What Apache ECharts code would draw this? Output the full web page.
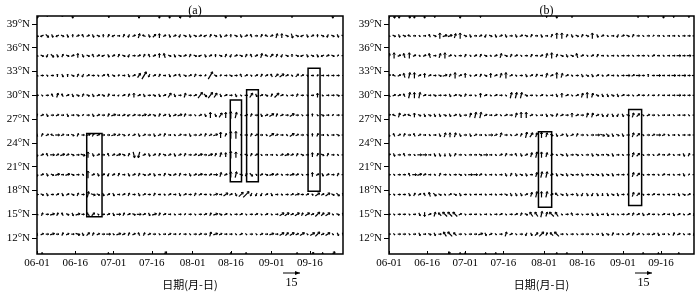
<!DOCTYPE html>
<html><head><meta charset="utf-8">
<script src="https://cdn.jsdelivr.net/npm/echarts@6/dist/echarts.min.js"></script>
<style>html,body{margin:0;padding:0;background:#fff}#c{width:700px;height:295px}</style>
</head><body><div id="c"></div>
<script>
// ---- axes / ticks ----
const xTickDays = [0,15,30,45,61,76,92,107];
const xTickLabels = ['06-01','06-16','07-01','07-16','08-01','08-16','09-01','09-16'];
const yTicks = [12,15,18,21,24,27,30,33,36,39];
const lats = [40,37.5,35,32.5,30,27.5,25,22.5,20,17.5,15,12.5,10];
const dayStep = 2;          // one vector every 2 days from 06-01
const refSpeed = 15;        // reference vector (m/s)
const panelTitles = ['(a)','(b)'];
const xName = '日期(月-日)';

// ---- panel (a) wind vectors [u,v] per latitude row ----
const A40 = [[1,-3],[0,0],[1,0],[0,0],[0,0],[-1,0],[0,0],[0,-3],[0,0],[0,0],
[0,0],[0,0],[0,0],[0,0],[1,-2],[0,0],[0,0],[0,0],[0,0],[0,0],
[0,-3],[0,0],[0,0],[0,0],[0,-3],[0,0],[0,-3],[0,0],[1,-3],[0,0],
[0,-2],[0,0],[0,0],[0,0],[0,0],[0,0],[0,0],[0,-3],[0,0],[0,0],
[0,-2],[0,0],[0,0],[0,0],[0,0],[0,0],[0,0],[0,0],[0,0],[0,0],
[0,-2],[0,0],[0,0],[0,0],[0,0],[0,0],[0,0],[0,0],[0,-3],[0,0],[0,0]];
const A37 = [[2,-1],[-2,-1],[2,-2],[1,-2],[-2,-1],[2,-1],[1,-2],[0,2],[2,1],[-1,2],
[2,1],[1,-2],[2,-1],[0,2],[1,2],[-2,-1],[2,0],[1,2],[-1,-2],[2,1],
[1,3],[-2,1],[1,-2],[2,2],[0,3],[2,1],[1,-2],[2,1],[-1,-2],[2,-1],
[1,-2],[2,-1],[2,1],[-2,-1],[1,2],[2,-1],[1,-2],[2,1],[0,2],[2,-1],
[1,-2],[2,1],[-1,2],[2,0],[1,2],[-2,1],[2,1],[1,3],[0,3],[2,-1],
[1,-3],[2,-1],[-2,-1],[1,-2],[2,1],[0,2],[2,-1],[-1,-2],[2,-1],[1,-2],[2,-1]];
const A35 = [[-2,1],[2,-1],[-1,-2],[2,-2],[1,-2],[1,2],[2,-1],[2,1],[0,3],[1,-2],
[2,-1],[-1,2],[2,1],[-2,-1],[1,-2],[2,1],[1,2],[2,-1],[-1,-2],[2,0],
[2,1],[1,2],[-1,2],[2,1],[0,3],[-1,3],[2,-1],[1,-2],[2,-1],[2,1],
[1,2],[2,-1],[-2,-1],[1,-2],[2,1],[0,2],[2,-1],[1,2],[-1,-2],[2,1],
[2,-1],[1,2],[-1,2],[2,1],[1,3],[-2,1],[2,2],[1,2],[-1,-2],[2,-1],
[0,2],[2,-1],[-2,-1],[1,-2],[2,-1],[1,-2],[-2,-1],[2,1],[2,-1],[1,1],[2,0]];
const A32 = [[-2,1],[2,0],[1,-1],[2,0],[0,2],[1,-2],[0,2],[2,-1],[1,2],[-1,-2],
[2,1],[2,0],[1,-1],[2,1],[-1,2],[2,-1],[1,1],[2,0],[1,-2],[2,1],
[2,3],[3,5],[-1,-2],[2,1],[1,2],[2,0],[1,-2],[2,1],[-1,2],[2,-1],
[2,1],[1,2],[2,0],[1,1],[3,5],[2,-1],[1,1],[2,0],[2,-1],[2,0],
[-1,2],[2,1],[1,-1],[2,1],[1,2],[2,1],[-1,2],[2,2],[3,2],[2,1],
[1,-1],[2,2],[2,1],[1,-1],[2,0],[1,1],[2,0],[2,0],[2,0],[2,0],[1,0]];
const A30 = [[2,0],[1,-1],[2,0],[-1,2],[1,3],[-1,2],[2,1],[1,-2],[2,-1],[1,2],
[2,-1],[1,-2],[2,1],[2,-1],[1,2],[2,0],[-1,-1],[2,1],[1,2],[0,3],
[2,1],[1,-2],[2,0],[2,-1],[1,-2],[2,1],[2,3],[1,-2],[2,0],[1,3],
[2,0],[2,1],[3,4],[2,-2],[3,4],[2,3],[1,-2],[2,1],[2,0],[1,-2],
[1,-1],[2,0],[2,3],[1,-2],[2,1],[2,-1],[1,2],[3,3],[2,1],[1,-1],
[2,0],[1,2],[2,0],[1,-1],[2,0],[0,3],[1,-1],[2,0],[2,0],[2,-1],[2,0]];
const A27 = [[-1,-2],[2,1],[1,-2],[2,0],[2,1],[2,0],[1,-2],[2,0],[2,-1],[1,1],
[2,0],[1,-2],[2,1],[2,0],[1,2],[3,1],[2,0],[2,1],[-2,-1],[2,1],
[2,0],[3,1],[2,1],[2,-1],[1,2],[2,1],[1,-2],[2,1],[3,1],[1,2],
[2,0],[1,-1],[2,1],[1,-2],[0,4],[1,-2],[2,3],[0,4],[0,5],[1,4],
[1,-1],[2,1],[1,2],[2,0],[1,-2],[2,1],[3,2],[1,2],[2,1],[2,0],
[3,2],[2,0],[1,-1],[2,0],[0,2],[1,-1],[2,-1],[2,0],[1,1],[2,0],[2,0]];
const A25 = [[-1,2],[1,2],[2,1],[-2,1],[3,0],[2,1],[2,0],[2,-1],[1,2],[2,0],
[3,1],[1,2],[2,1],[2,0],[2,0],[3,1],[2,1],[2,-1],[1,1],[2,1],
[1,-2],[2,1],[2,0],[1,-2],[2,1],[1,2],[2,0],[1,-1],[2,1],[2,0],
[1,-2],[2,0],[2,1],[1,2],[2,1],[3,1],[0,4],[1,2],[0,5],[0,5],
[1,-1],[2,0],[1,2],[2,1],[2,0],[1,-1],[3,2],[2,1],[2,0],[1,-1],
[3,2],[2,1],[2,0],[1,-1],[0,2],[1,2],[2,0],[1,-1],[2,0],[2,-1],[2,0]];
const A22 = [[1,-2],[2,1],[-1,2],[3,0],[2,1],[3,1],[2,1],[2,-1],[2,0],[3,-1],
[0,4],[1,-2],[2,1],[2,0],[-1,2],[2,1],[3,1],[2,-1],[1,2],[1,-4],
[-1,-4],[2,1],[1,-2],[2,1],[1,2],[2,-1],[2,1],[1,-2],[2,1],[1,2],
[2,0],[2,1],[3,1],[2,0],[3,1],[1,2],[1,3],[0,3],[0,5],[0,4],
[1,-1],[2,-1],[1,2],[2,1],[1,-1],[2,0],[2,0],[1,-1],[2,1],[3,1],
[2,1],[1,2],[2,-1],[2,0],[0,3],[1,2],[2,-1],[1,2],[2,0],[1,-1],[2,0]];
const A20 = [[1,-2],[2,1],[1,-2],[2,-1],[3,1],[2,0],[3,1],[2,-1],[2,0],[1,-1],
[0,5],[2,1],[1,-2],[2,1],[-1,-2],[2,1],[1,2],[2,0],[1,-2],[2,1],
[1,2],[2,-1],[2,1],[1,-2],[2,0],[1,2],[2,-1],[2,1],[1,2],[2,0],
[1,-2],[2,1],[3,1],[2,0],[2,1],[3,0],[1,3],[2,1],[0,4],[1,4],
[2,-1],[1,2],[2,-2],[1,-1],[2,1],[2,-1],[3,1],[2,1],[1,-1],[2,0],
[3,1],[2,1],[1,-1],[2,0],[0,3],[2,1],[1,-2],[2,1],[2,0],[1,2],[2,0]];
const A17 = [[2,0],[2,-1],[1,-2],[2,0],[2,1],[1,-2],[2,1],[2,-1],[1,2],[2,0],
[1,4],[3,-1],[2,-1],[1,-2],[2,1],[1,-2],[2,0],[2,1],[1,2],[2,0],
[1,-2],[2,1],[2,0],[1,2],[2,0],[1,-1],[2,1],[2,0],[1,-2],[2,1],
[2,0],[1,2],[2,1],[2,0],[1,-1],[3,1],[2,0],[3,2],[2,1],[1,-2],
[3,3],[4,4],[-1,-2],[-1,-2],[-1,-2],[2,1],[1,-2],[2,0],[1,-1],[2,0],
[2,1],[3,1],[2,0],[2,1],[1,-1],[3,2],[2,1],[3,2],[2,-1],[2,-2],[1,-2]];
const A15 = [[-2,1],[1,2],[2,0],[3,1],[1,2],[-1,2],[2,-1],[1,-2],[3,1],[2,0],
[-2,2],[2,2],[1,-1],[2,0],[2,1],[1,-2],[3,0],[1,2],[2,1],[2,-1],
[3,0],[2,1],[1,-2],[3,1],[1,2],[2,1],[2,0],[1,-1],[2,0],[1,1],
[2,0],[1,-1],[2,0],[2,1],[1,2],[3,1],[2,-1],[2,1],[1,-1],[2,0],
[2,1],[1,-1],[2,0],[2,1],[1,-1],[2,1],[1,-1],[2,0],[3,2],[3,2],
[2,1],[3,2],[1,2],[3,2],[2,1],[3,3],[2,2],[3,2],[1,-1],[2,-1],[1,-2]];
const A12 = [[-1,2],[2,1],[2,0],[3,1],[2,0],[1,2],[2,1],[2,0],[3,-1],[1,-2],
[2,2],[1,2],[2,1],[2,0],[3,0],[1,-1],[3,1],[2,1],[1,2],[2,1],
[-1,2],[1,2],[2,1],[2,0],[1,-1],[2,0],[2,1],[2,0],[1,1],[2,0],
[1,-1],[2,0],[2,1],[2,0],[1,3],[3,1],[2,1],[2,0],[2,0],[1,-1],
[2,1],[1,-1],[2,0],[1,-1],[2,1],[2,0],[3,1],[2,0],[3,2],[2,2],
[3,2],[2,1],[3,2],[1,-1],[3,2],[3,3],[2,1],[3,2],[1,-1],[1,-2],[1,-2]];
const A10 = [[0,0],[0,2],[0,0],[0,0],[0,0],[0,0],[0,0],[0,0],[0,0],[0,0],
[0,0],[0,0],[0,0],[0,0],[0,2],[0,0],[0,0],[0,0],[0,0],[0,0],
[0,0],[0,0],[0,0],[0,0],[0,0],[3,3],[0,0],[0,0],[0,0],[0,0],
[0,0],[0,0],[0,0],[0,0],[0,0],[0,0],[0,0],[0,0],[0,2],[0,0],
[0,0],[0,2],[0,0],[0,0],[0,0],[0,0],[0,0],[0,0],[0,0],[0,0],
[0,0],[0,2],[0,0],[0,0],[2,2],[0,0],[0,2],[0,0],[3,3],[0,0],[0,0]];

// ---- panel (b) wind vectors [u,v] per latitude row ----
const B40 = [[0,-3],[1,-3],[0,-3],[0,0],[1,-3],[0,-3],[0,0],[0,-3],[0,0],[0,-2],
[0,0],[0,0],[0,0],[0,0],[0,-3],[0,0],[0,0],[0,0],[0,-2],[0,0],
[0,0],[0,0],[0,0],[0,0],[0,0],[0,0],[0,0],[0,0],[0,0],[0,0],
[0,0],[0,-2],[0,0],[0,-3],[0,0],[0,0],[0,-2],[0,0],[0,0],[0,0],
[0,0],[0,0],[0,0],[0,0],[0,0],[0,0],[0,0],[0,0],[0,0],[0,-2],
[0,0],[0,-2],[0,0],[0,0],[0,-3],[0,0],[0,-2],[0,0],[0,0],[0,-2],[0,0]];
const B37 = [[-2,1],[2,-1],[1,-2],[2,-1],[-2,1],[2,0],[1,-1],[2,0],[-1,2],[2,-1],
[0,4],[3,1],[3,1],[1,3],[0,4],[2,-1],[1,-2],[2,0],[2,1],[-1,-2],
[2,-1],[1,-2],[2,1],[1,-2],[2,0],[1,-2],[2,1],[2,-1],[1,2],[2,0],
[1,-2],[2,0],[1,2],[0,4],[0,4],[1,2],[1,-2],[2,-1],[1,2],[2,-1],
[0,4],[1,-2],[2,1],[1,-1],[2,0],[-1,-2],[2,1],[2,-1],[1,2],[2,0],
[1,-1],[2,0],[1,1],[2,0],[1,-1],[2,0],[2,0],[1,-1],[2,0],[2,0],[2,0]];
const B35 = [[1,3],[0,4],[2,1],[-1,3],[0,4],[2,1],[1,-1],[2,1],[-1,3],[2,0],
[1,3],[0,4],[2,1],[1,-1],[2,0],[1,2],[1,-1],[2,1],[1,2],[2,-1],
[1,-1],[2,1],[1,3],[2,-1],[1,2],[2,1],[1,-1],[2,0],[1,2],[2,0],
[2,1],[1,3],[0,4],[1,2],[2,-1],[1,-2],[2,-1],[-1,3],[2,1],[1,-1],
[2,1],[1,2],[2,0],[1,-1],[2,0],[1,-1],[2,0],[2,0],[1,-1],[2,0],
[2,0],[1,-1],[2,1],[2,0],[1,-1],[2,0],[2,0],[3,0],[2,0],[3,0],[2,0]];
const B32 = [[2,1],[-2,1],[2,1],[-1,3],[1,4],[0,4],[2,1],[0,3],[2,1],[2,0],
[2,-1],[3,1],[1,2],[0,4],[2,1],[0,3],[1,-1],[2,1],[1,2],[2,-1],
[0,3],[2,1],[1,3],[0,4],[2,1],[1,-1],[2,0],[1,-2],[2,1],[1,2],
[2,0],[1,3],[2,1],[0,4],[1,3],[2,1],[1,-1],[2,0],[1,-2],[2,-1],
[1,-2],[2,1],[1,-1],[2,1],[2,0],[1,-1],[2,0],[3,0],[2,1],[3,0],
[2,0],[0,2],[2,0],[3,0],[2,0],[2,0],[3,0],[2,0],[3,0],[2,0],[3,0]];
const B30 = [[-2,2],[2,1],[2,1],[-1,2],[1,4],[0,4],[1,4],[2,1],[2,0],[2,-1],
[2,0],[2,0],[1,-2],[2,1],[2,-1],[1,2],[2,0],[1,-1],[0,3],[2,1],
[1,-1],[2,1],[2,0],[1,-1],[1,4],[1,4],[1,4],[2,-1],[2,0],[1,-1],
[2,1],[1,-1],[2,0],[1,-2],[0,3],[2,1],[1,-1],[2,1],[1,3],[0,4],
[1,3],[2,-1],[1,-2],[1,-2],[2,-1],[1,-2],[2,1],[2,0],[1,-1],[2,1],
[2,0],[1,1],[2,0],[1,1],[2,0],[2,0],[2,0],[3,0],[2,0],[2,0],[2,0]];
const B27 = [[2,1],[-2,1],[1,3],[2,1],[-2,1],[0,3],[2,-1],[1,-2],[2,-1],[1,-2],
[1,-2],[2,-1],[1,-2],[2,1],[1,-2],[2,0],[1,3],[1,4],[1,4],[2,1],
[2,0],[2,1],[1,-1],[2,1],[2,0],[1,3],[0,4],[0,4],[2,1],[1,-1],
[2,0],[1,-2],[2,-1],[1,2],[2,1],[2,0],[0,3],[2,1],[2,0],[1,3],
[1,3],[2,1],[1,-2],[-1,-2],[1,-2],[-1,-2],[1,-2],[2,-1],[1,3],[2,2],
[1,-1],[2,1],[2,0],[1,-1],[2,0],[2,0],[1,-1],[2,0],[2,0],[1,-1],[2,0]];
const B25 = [[1,-2],[-1,2],[2,1],[1,2],[2,0],[-1,2],[2,1],[2,0],[1,-1],[2,0],
[1,-2],[1,3],[0,3],[1,3],[1,-2],[2,0],[1,-2],[2,1],[2,0],[1,-1],
[3,0],[2,1],[1,3],[2,0],[1,-1],[2,1],[1,2],[1,4],[2,3],[1,3],
[0,4],[1,3],[2,-1],[1,-2],[2,1],[1,-2],[2,1],[1,2],[2,0],[1,-1],
[2,0],[3,0],[3,-1],[2,-2],[1,-2],[2,-1],[1,-2],[2,0],[1,3],[2,2],
[1,-1],[2,0],[2,1],[3,0],[2,1],[1,-1],[2,0],[1,-1],[2,0],[2,0],[2,0]];
const B22 = [[2,1],[1,-2],[2,0],[-1,2],[2,0],[1,-1],[3,0],[3,0],[2,0],[1,-2],
[1,-2],[0,-2],[1,-2],[1,2],[2,0],[1,-1],[2,0],[2,0],[2,-1],[3,0],
[2,0],[1,-1],[2,1],[1,2],[2,0],[-1,2],[1,-2],[2,1],[1,3],[1,4],
[0,4],[1,3],[2,1],[1,-1],[2,-1],[1,-2],[2,0],[2,-1],[1,-1],[2,0],
[1,-2],[2,-1],[2,0],[2,-1],[1,-2],[2,0],[1,-1],[2,0],[1,3],[2,2],
[1,-1],[2,0],[1,-1],[2,1],[2,0],[2,1],[1,-1],[2,0],[1,-2],[1,2],[2,0]];
const B20 = [[2,0],[1,-1],[2,0],[2,0],[-1,2],[3,0],[3,1],[2,1],[2,0],[1,-1],
[1,2],[2,0],[1,-1],[2,0],[2,-1],[1,-1],[3,0],[3,0],[2,1],[1,-1],
[2,0],[1,-1],[2,0],[1,-2],[1,2],[1,-2],[2,-1],[1,-2],[2,0],[1,3],
[1,4],[1,4],[2,1],[1,-2],[2,-1],[1,-2],[2,-1],[2,0],[1,-2],[2,0],
[2,-1],[2,-1],[1,-2],[2,-1],[1,-2],[2,0],[2,0],[1,-1],[1,3],[2,2],
[1,-1],[2,0],[2,0],[1,-1],[2,1],[2,0],[1,-1],[2,0],[1,-2],[1,1],[2,0]];
const B17 = [[2,0],[1,-1],[2,0],[2,0],[1,-2],[1,2],[2,1],[-1,2],[-1,3],[2,-2],
[2,-1],[1,-1],[2,1],[2,-1],[1,-2],[2,0],[1,-1],[2,0],[2,0],[1,-1],
[2,0],[1,-1],[2,0],[2,-1],[1,-2],[1,-2],[1,-2],[2,1],[1,3],[1,4],
[0,4],[1,4],[2,1],[-2,2],[2,-1],[1,-2],[2,0],[1,-2],[-1,-2],[1,-2],
[-1,-2],[1,-2],[0,-2],[1,-2],[2,-1],[1,-2],[2,0],[1,-1],[1,3],[2,2],
[1,-1],[2,0],[2,1],[2,0],[1,-1],[2,0],[2,0],[1,-2],[2,-1],[2,1],[1,1]];
const B15 = [[2,0],[1,-1],[2,0],[2,0],[1,-1],[2,0],[1,-2],[0,-3],[2,1],[1,3],
[-2,2],[-3,3],[-3,3],[-3,3],[2,1],[1,-1],[2,0],[2,0],[1,-1],[2,0],
[1,-1],[2,0],[2,1],[1,-1],[2,0],[2,1],[1,2],[2,-1],[-2,3],[-2,3],
[1,4],[1,3],[-3,3],[-2,3],[1,-1],[2,0],[-1,2],[2,0],[1,-1],[2,0],
[1,-2],[1,-2],[2,0],[1,-2],[2,0],[1,-1],[2,0],[2,1],[1,2],[2,1],
[1,-2],[2,1],[2,0],[1,-1],[2,1],[2,0],[1,-2],[2,1],[1,-1],[2,1],[1,2]];
const B12 = [[2,0],[1,-1],[2,0],[2,0],[1,-1],[2,0],[1,-2],[2,0],[2,-1],[1,-2],
[2,0],[-2,3],[-3,3],[-2,2],[2,0],[1,-1],[2,0],[2,0],[3,1],[1,-2],
[2,1],[1,-1],[2,0],[1,3],[2,1],[1,-1],[2,0],[-1,-2],[1,-2],[2,2],
[3,3],[1,2],[-2,2],[-3,3],[2,0],[1,-1],[2,0],[1,-1],[2,0],[2,0],
[1,-1],[2,0],[1,-2],[2,-1],[1,2],[2,0],[1,-1],[2,1],[1,2],[2,1],
[1,-1],[2,0],[2,1],[1,-2],[2,0],[1,-1],[1,2],[2,1],[1,-1],[2,0],[1,2]];
const B10 = [[0,0],[0,0],[0,0],[0,0],[0,0],[0,0],[0,0],[0,0],[0,0],[0,0],
[0,0],[0,0],[-2,3],[0,0],[0,2],[0,2],[0,0],[0,0],[0,0],[0,2],
[0,0],[0,2],[0,0],[0,0],[0,0],[0,0],[0,0],[0,0],[0,0],[0,0],
[0,0],[0,0],[0,0],[0,2],[0,0],[0,2],[0,0],[0,0],[0,0],[0,0],
[0,0],[0,0],[0,0],[0,0],[0,0],[0,0],[0,0],[0,0],[0,0],[0,0],
[0,2],[0,0],[0,0],[0,2],[0,0],[0,0],[0,0],[0,2],[0,0],[0,0],[0,0]];

const rowsA = [A40,A37,A35,A32,A30,A27,A25,A22,A20,A17,A15,A12,A10];
const rowsB = [B40,B37,B35,B32,B30,B27,B25,B22,B20,B17,B15,B12,B10];

// highlighted boxes: [dayStart, dayEnd, latStart, latEnd]
const boxesA = [[19.5,25.5,14.7,25.2],[75.8,80.2,19.1,29.4],[82.2,86.8,19.1,30.7],[106.3,111,17.9,33.4]];
const boxesB = [[58.8,64,15.9,25.4],[94.3,99.4,16.1,28.2]];

// ---- rendering ----
const PX = 1.45;    // pixels per m/s for the vectors
const SERIF = '"Liberation Serif","DejaVu Serif",serif';
const grids = [
  {left:37, top:16, width:306, height:239},
  {left:389, top:16, width:305, height:239}
];

function vecData(rows){
  const d=[];
  rows.forEach((row,r)=>row.forEach((p,i)=>{ if(p[0]||p[1]) d.push([i*dayStep, lats[r], p[0], p[1]]); }));
  return d;
}
function vecRender(params, api){
  const c = api.coord([api.value(0), api.value(1)]);
  const u = api.value(2)*PX, v = -api.value(3)*PX;
  const x0=c[0]-u/2, y0=c[1]-v/2, x1=c[0]+u/2, y1=c[1]+v/2;
  const len=Math.hypot(u,v), ang=Math.atan2(v,u), h=Math.min(2.2, len*0.45);
  const a1=ang+Math.PI*0.8, a2=ang-Math.PI*0.8;
  return {type:'group', children:[
    {type:'line', shape:{x1:x0,y1:y0,x2:x1,y2:y1}, style:{stroke:'#000', lineWidth:1.2}},
    {type:'polyline', shape:{points:[[x1+h*Math.cos(a1),y1+h*Math.sin(a1)],[x1,y1],[x1+h*Math.cos(a2),y1+h*Math.sin(a2)]]}, style:{stroke:'#000', lineWidth:1, fill:null}}
  ]};
}
function boxRender(params, api){
  const p0 = api.coord([api.value(0), api.value(3)]);
  const p1 = api.coord([api.value(1), api.value(2)]);
  return {type:'rect', shape:{x:p0[0], y:p0[1], width:p1[0]-p0[0], height:p1[1]-p0[1]}, style:{stroke:'#000', lineWidth:1.5, fill:null}};
}

const xAxes = grids.map((g,i)=>({
  gridIndex:i, type:'value', min:0, max:120,
  axisLine:{show:false}, splitLine:{show:false},
  axisTick:{show:true, inside:true, length:3, customValues:xTickDays, lineStyle:{color:'#000'}},
  axisLabel:{customValues:xTickDays, formatter:v=>xTickLabels[xTickDays.indexOf(v)], color:'#000', fontFamily:SERIF, fontSize:11, margin:4},
  name:xName, nameLocation:'middle', nameGap:25,
  nameTextStyle:{fontFamily:'"Noto Sans CJK SC",sans-serif', fontSize:11, color:'#000'}
}));
const yAxes = grids.map((g,i)=>({
  gridIndex:i, type:'value', min:10, max:40,
  axisLine:{show:false}, splitLine:{show:false},
  axisTick:{show:true, length:5, customValues:yTicks, lineStyle:{color:'#000'}},
  axisLabel:{customValues:yTicks, formatter:v=>v+'°N', color:'#000', fontFamily:SERIF, fontSize:11, margin:7}
}));

const series=[];
[rowsA,rowsB].forEach((rows,i)=>{
  series.push({type:'custom', xAxisIndex:i, yAxisIndex:i, clip:true, silent:true, data:vecData(rows), renderItem:vecRender, animation:false});
});
[boxesA,boxesB].forEach((bx,i)=>{
  series.push({type:'custom', xAxisIndex:i, yAxisIndex:i, silent:true, data:bx, renderItem:boxRender, animation:false});
});

const refLen = 17;  // drawn length of the reference vector
const graphic=[];
const refX=[283,635];
refX.forEach((x)=>{
  graphic.push({type:'line', shape:{x1:x, y1:273, x2:x+refLen, y2:273}, style:{stroke:'#000', lineWidth:1}});
  graphic.push({type:'polygon', shape:{points:[[x+refLen,273],[x+refLen-5,271],[x+refLen-5,275]]}, style:{fill:'#000'}});
  graphic.push({type:'text', x:x+refLen/2, y:283, style:{text:String(refSpeed), font:'12px '+SERIF, fill:'#000', align:'center', verticalAlign:'middle'}});
});

const chart = echarts.init(document.getElementById('c'), null, {renderer:'canvas'});
chart.setOption({
  animation:false,
  backgroundColor:'#fff',
  title: grids.map((g,i)=>({text:panelTitles[i], left:g.left+g.width/2, top:0, textAlign:'center',
    textStyle:{fontFamily:SERIF, fontSize:12, fontWeight:'normal', color:'#000'}})),
  grid: grids.map(g=>Object.assign({show:true, borderColor:'#000', borderWidth:1.5, backgroundColor:'transparent'}, g)),
  xAxis:xAxes, yAxis:yAxes, series, graphic
});
</script></body></html>
